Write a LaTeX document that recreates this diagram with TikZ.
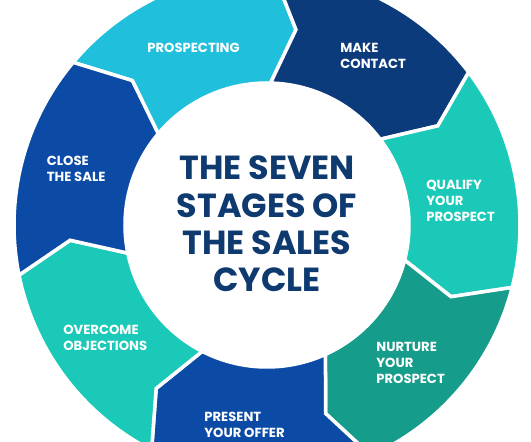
\documentclass[tikz,border=0pt]{standalone}
\usepackage{fontspec}
\setmainfont{Poppins}
\usepackage{tikz}
\definecolor{prospectcyan}{HTML}{20BFDC}
\definecolor{contactnavy}{HTML}{0C3B7C}
\definecolor{qualifyteal}{HTML}{1AC9B8}
\definecolor{nurturegreen}{HTML}{159C8A}
\definecolor{offerblue}{HTML}{0C4BA5}
\definecolor{titlenavy}{HTML}{0E3A70}
\newcommand{\salesstage}[2]{%
  \filldraw[#2, draw=white, line width=2pt, line join=miter]
    (#1:5.06) arc[start angle=#1, end angle=#1-51.43, radius=5.06]
    -- ({#1-58.43}:3.95) -- ({#1-51.43}:2.84)
    arc[start angle=#1-51.43, end angle=#1, radius=2.84]
    -- ({#1-7}:3.95) -- cycle;}

\begin{document}
\begin{tikzpicture}[stagetext/.style={text=white, inner sep=0pt, anchor=west, align=left,
    font=\bfseries\fontsize{7.5}{9.1}\selectfont},
  titletext/.style={text=titlenavy, inner sep=0pt, align=center,
    font=\bfseries\fontsize{19}{21.3}\selectfont}]
    \clip (-5.34,-4.34) rectangle (5.28,4.50);
    \fill[white] (-5.34,-4.34) rectangle (5.28,4.50);
    \salesstage{140}{prospectcyan}
    \salesstage{88.57}{contactnavy}
    \salesstage{37.14}{qualifyteal}
    \salesstage{-14.29}{nurturegreen}
    \salesstage{-65.71}{offerblue}
    \salesstage{-117.14}{qualifyteal}
    \salesstage{-168.57}{offerblue}
    \node[stagetext] (prospecting) at (-2.40,3.55) {PROSPECTING};
    \node[stagetext] (contact) at (1.46,3.39) {MAKE\\CONTACT};
    \node[stagetext] (qualify) at (3.18,0.48) {QUALIFY\\YOUR\\PROSPECT};
    \node[stagetext] (nurture) at (2.18,-2.76) {NURTURE\\YOUR\\PROSPECT};
    \node[stagetext] (offer) at (-1.26,-4.00) {PRESENT\\YOUR OFFER};
    \node[stagetext] (objections) at (-4.08,-2.25) {OVERCOME\\OBJECTIONS};
    \node[stagetext] (close) at (-4.41,1.12) {CLOSE\\THE SALE};
    \node[titletext] (cycle) at (0,0.02) {THE SEVEN\\STAGES OF\\THE SALES\\CYCLE};
\end{tikzpicture}
\end{document}
